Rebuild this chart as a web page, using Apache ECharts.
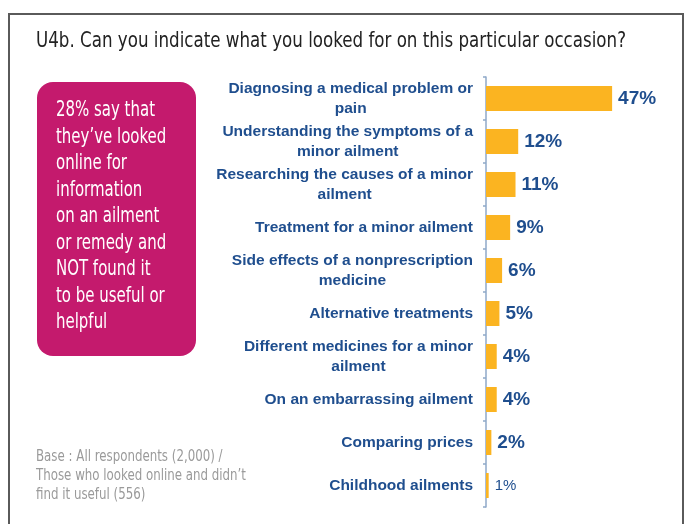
<!DOCTYPE html>
<html><head><meta charset="utf-8">
<script src="https://cdn.jsdelivr.net/npm/echarts@6/dist/echarts.min.js"></script>
<style>html,body{margin:0;padding:0;background:#fff;}#c{width:688px;height:524px;}</style>
</head><body><div id="c"></div>
<script>
const titleText = 'U4b. Can you indicate what you looked for on this particular occasion?';
const categories = [
  'Diagnosing a medical problem or\npain',
  'Understanding the symptoms of a\nminor ailment',
  'Researching the causes of a minor\nailment',
  'Treatment for a minor ailment',
  'Side effects of a nonprescription\nmedicine',
  'Alternative treatments',
  'Different medicines for a minor\nailment',
  'On an embarrassing ailment',
  'Comparing prices',
  'Childhood ailments'
];
const values = [47, 12, 11, 9, 6, 5, 4, 4, 2, 1];
const boxLines = ['28% say that', 'they\u2019ve looked', 'online for', 'information', 'on an ailment', 'or remedy and', 'NOT found it', 'to be useful or', 'helpful'];
const baseLines = ['Base : All respondents (2,000) /', 'Those who looked online and didn\u2019t', 'find it useful (556)'];

const cond = '"DejaVu Sans Condensed", "DejaVu Sans", sans-serif';
const ctx = document.createElement('canvas').getContext('2d');
function fitScale(text, font, target) { ctx.font = font; return target / ctx.measureText(text).width; }
const titleFont = '21px ' + cond;
const boxFont = '21.5px ' + cond;
const baseFont = '16px ' + cond;
const titleScale = fitScale(titleText, titleFont, 590);
const boxScale = fitScale('28% say that', boxFont, 99);
const baseScale = fitScale(baseLines[1], baseFont, 210);

const blue = '#1F4E8E';
const chart = echarts.init(document.getElementById('c'));
chart.setOption({
  animation: false,
  backgroundColor: '#fff',
  grid: { left: 486, right: 41, top: 77, bottom: 17, containLabel: false },
  xAxis: { type: 'value', min: 0, max: 60, show: false },
  yAxis: {
    type: 'category', inverse: true, data: categories,
    axisLine: { show: true, lineStyle: { color: '#8FA9C9', width: 1.5 } },
    axisTick: { show: true, length: 3, lineStyle: { color: '#8FA9C9', width: 1.5 } },
    axisLabel: {
      margin: 13,
      formatter: v => v.split('\n').map(l => '{c|' + l + '}').join('\n'),
      rich: { c: { align: 'center', fontFamily: 'Liberation Sans, Arial, sans-serif', fontWeight: 'bold', fontSize: 15.5, color: blue, lineHeight: 20 } }
    }
  },
  series: [{
    type: 'bar', data: values.map((v, i) => i === values.length - 1 ? { value: v, label: { fontSize: 15, fontWeight: 'normal' } } : v),
    barWidth: 25,
    itemStyle: { color: '#FBB421' },
    label: { show: true, position: 'right', distance: 6, formatter: '{c}%', color: blue, fontFamily: 'Liberation Sans, Arial, sans-serif', fontWeight: 'bold', fontSize: 19 }
  }],
  graphic: [
    { type: 'rect', shape: { x: 9, y: 14, width: 674, height: 540 }, style: { fill: 'none', stroke: '#5a5a5a', lineWidth: 2 }, z: 0 },
    { type: 'text', x: 36, y: 42, scaleX: titleScale, style: { text: titleText, font: titleFont, fill: '#222', verticalAlign: 'middle' } },
    { type: 'rect', shape: { x: 37, y: 82, width: 159, height: 274, r: 16 }, style: { fill: '#C41A6D' } },
    { type: 'text', x: 56, y: 97.5, scaleX: boxScale, style: { text: boxLines.join('\n'), font: boxFont, fill: '#fff', lineHeight: 26.5, verticalAlign: 'top' } },
    { type: 'text', x: 36, y: 447, scaleX: baseScale, style: { text: baseLines.join('\n'), font: baseFont, fill: '#9a9a9a', lineHeight: 19, verticalAlign: 'top' } }
  ]
});
</script></body></html>
